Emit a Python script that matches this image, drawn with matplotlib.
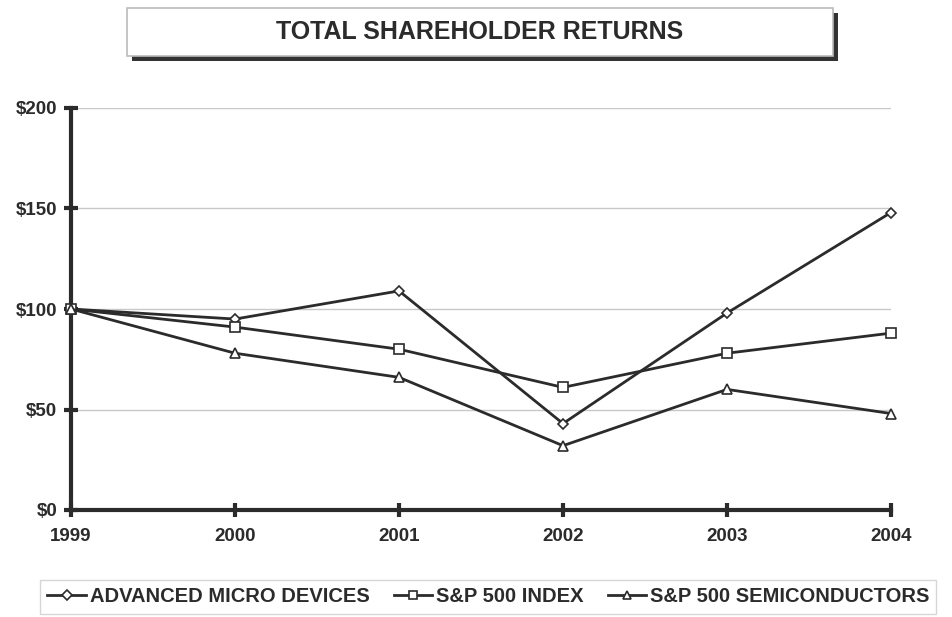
import matplotlib
matplotlib.use("Agg")
import matplotlib.pyplot as plt
from matplotlib.patches import Rectangle
from matplotlib.lines import Line2D

years = [1999, 2000, 2001, 2002, 2003, 2004]
amd = [100, 95, 109, 43, 98, 148]
sp500 = [100, 91, 80, 61, 78, 88]
semis = [100, 78, 66, 32, 60, 48]
series_names = ["ADVANCED MICRO DEVICES", "S&P 500 INDEX", "S&P 500 SEMICONDUCTORS"]
y_ticks = [0, 50, 100, 150, 200]
y_labels = ["$0", "$50", "$100", "$150", "$200"]
title = "TOTAL SHAREHOLDER RETURNS"

plt.rcParams['font.family'] = ['Liberation Sans', 'DejaVu Sans']
dark = "#2b2b2b"

fig = plt.figure(figsize=(9.52, 6.17), dpi=100)
ax = fig.add_axes([71/952, 1-510/617, (891-71)/952, (510-108)/617])

markers = ["D", "s", "^"]
msizes = [5.5, 6.5, 6.5]
for vals, name, m, ms in zip([amd, sp500, semis], series_names, markers, msizes):
    ax.plot(years, vals, color=dark, lw=2.0, marker=m, markersize=ms,
            markerfacecolor="white", markeredgecolor=dark, markeredgewidth=1.2,
            label=name, zorder=3, clip_on=False)

ax.set_xlim(1999, 2004)
ax.set_ylim(0, 200)
ax.set_yticks(y_ticks)
ax.set_yticklabels(y_labels)
ax.set_xticks(years)
ax.set_xticklabels([str(y) for y in years])
for lab in ax.get_xticklabels() + ax.get_yticklabels():
    lab.set_fontweight("bold")
    lab.set_fontsize(13.5)
    lab.set_color(dark)
ax.tick_params(axis="both", direction="inout", length=10, width=3, color=dark, pad=5)
ax.tick_params(axis="x", pad=8)
ax.yaxis.grid(True, color="#c8c8c8", lw=1.0)
ax.set_axisbelow(True)
for s in ["top", "right"]:
    ax.spines[s].set_visible(False)
for s in ["left", "bottom"]:
    ax.spines[s].set_linewidth(3)
    ax.spines[s].set_color(dark)

# Title box with shadow
bx, by, bw, bh = 127/952, 1-56/617, (833-127)/952, (56-8)/617
fig.patches.append(Rectangle((bx+5/952, by-5/617), bw, bh, transform=fig.transFigure,
                             facecolor="#333333", edgecolor="none", zorder=1))
fig.patches.append(Rectangle((bx, by), bw, bh, transform=fig.transFigure,
                             facecolor="white", edgecolor="#bbbbbb", lw=1.2, zorder=2))
fig.text(bx+bw/2, by+bh/2, title, ha="center", va="center", fontsize=18,
         fontweight="bold", color=dark, zorder=3)

handles = [Line2D([0], [0], color=dark, lw=2, marker=m, markersize=ms,
                  markerfacecolor="white", markeredgecolor=dark, markeredgewidth=1.2)
           for m, ms in zip(markers, [5, 6, 6])]
leg = fig.legend(handles, series_names, loc="center", bbox_to_anchor=(0.513, 1-597/617),
                 ncol=3, frameon=True, fancybox=False, edgecolor="#cccccc",
                 handlelength=1.9, handletextpad=0.2, columnspacing=1.2,
                 borderpad=0.35, prop={"weight": "bold", "size": 14.5})
for t in leg.get_texts():
    t.set_color(dark)

fig.savefig("out.png", dpi=100, facecolor="white")
